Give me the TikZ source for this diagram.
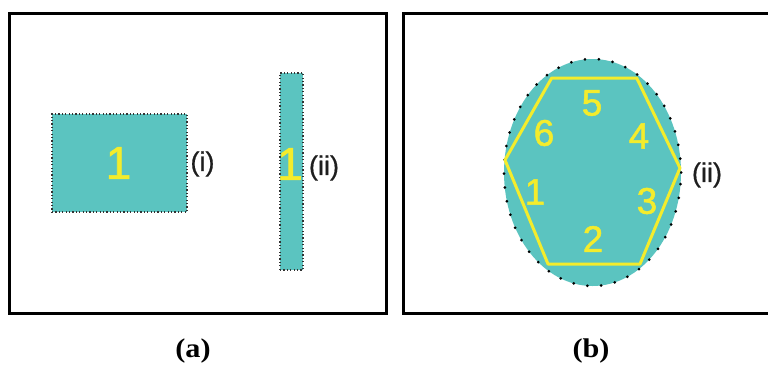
\documentclass[tikz,border=0pt]{standalone}
\usepackage{fontspec}
\setmainfont{Liberation Sans}
\newfontfamily\capfont{Liberation Serif}
\newfontfamily\digfont[FakeBold=1.4]{Liberation Sans}
\newfontfamily\lblfont[FakeBold=0.6]{Liberation Sans}
\usetikzlibrary{shapes.geometric}
\definecolor{tealfill}{HTML}{5BC4C0}
\definecolor{yel}{HTML}{F4EC2C}
\definecolor{lab}{HTML}{1E1E1E}
\begin{document}
\begin{tikzpicture}[x=1pt,y=-1pt,
  panel/.style={draw=black, line width=3pt},
  zone/.style={fill=tealfill, draw=black!80, line width=1.3pt, dash pattern=on 1.2pt off 2.2pt, inner sep=0pt},
  bigdigit/.style={text=yel, inner sep=0pt, font=\digfont\fontsize{46}{46}\selectfont},
  hexdigit/.style={text=yel, inner sep=0pt, font=\digfont\fontsize{37}{37}\selectfont},
  lbl/.style={text=lab, inner sep=0pt, font=\lblfont\fontsize{27}{27}\selectfont},
  captext/.style={text=black, inner sep=0pt, xscale=1.12, font=\capfont\bfseries\fontsize{27}{27}\selectfont}]
\useasboundingbox (0,0) rectangle (768,365);
\clip (0,0) rectangle (768,365);
\fill[white] (0,0) rectangle (768,365);
% panels
\draw[panel] (9.5,13.5) rectangle (386,313);
\draw[panel] (403,13.5) rectangle (775,313);
% panel (a)
\node[zone, minimum width=135pt, minimum height=98pt] (r1) at (119.5,163) {};
\node[zone, minimum width=23pt, minimum height=197pt] (r2) at (291.5,171.5) {};
\node[bigdigit] (d1) at (118.5,163) {1};
\node[bigdigit] (d2) at (290,164) {1};
\node[lbl] (li) at (202.5,164) {(i)};
\node[lbl] (lii) at (324,168) {(ii)};
% panel (b)
\node[ellipse, fill=tealfill, draw=black, minimum width=177pt, minimum height=227pt, inner sep=0pt,
      line width=3pt, line cap=round, dash pattern=on 0pt off 13.9pt] (el) at (592.5,172.5) {};
\draw[yel, line width=3pt, line join=round] (551.7,78) -- (636.7,78) -- (680,168) -- (640,264) -- (548,264) -- (505,160) -- cycle;
\node[hexdigit] (h5) at (592,103) {5};
\node[hexdigit] (h4) at (639,136) {4};
\node[hexdigit] (h6) at (544,133) {6};
\node[hexdigit] (h1) at (535,192) {1};
\node[hexdigit] (h3) at (647,201) {3};
\node[hexdigit] (h2) at (593,239) {2};
\node[lbl] (lb) at (707,175) {(ii)};
% captions
\node[captext] (ca) at (193,351) {(a)};
\node[captext] (cb) at (591,351) {(b)};
\end{tikzpicture}
\end{document}
